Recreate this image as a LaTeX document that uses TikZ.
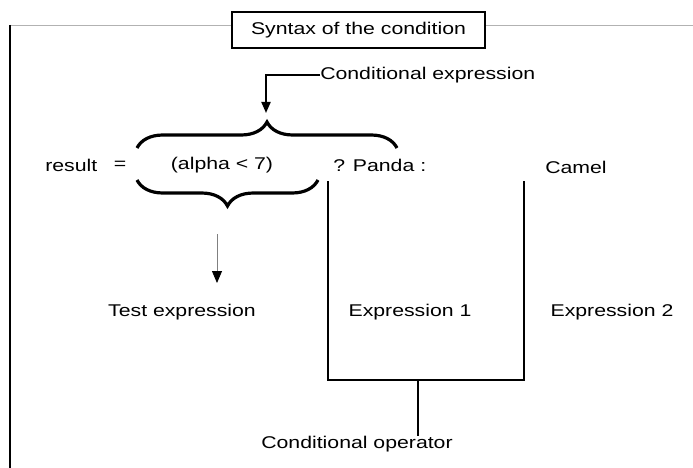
\documentclass[tikz,border=0pt]{standalone}
\usepackage{fontspec}
\setmainfont{Liberation Sans}
\usetikzlibrary{decorations.pathreplacing,arrows.meta}
\begin{document}
\begin{tikzpicture}[x=1pt,y=-1pt,
  lbl/.style={inner sep=0pt,xscale=1.25,font=\fontsize{17}{20}\selectfont},
  frameline/.style={line width=2pt,black},
  bracket/.style={line width=2.2pt,black},
  bigbrace/.style={decorate,decoration={brace,amplitude=26pt},line width=3.2pt},
  tri/.style={-{Triangle[width=9pt,length=11pt]}}]
  \useasboundingbox[fill=white] (0,0) rectangle (693,468);

  % frame
  \draw[gray!60,line width=0.8pt] (10,25) -- (693,25);
  \draw[frameline] (10,25) -- (10,468);
  \node[draw,line width=1.2pt,fill=white,minimum width=253pt,minimum height=36pt,inner sep=0pt] (titlebox) at (358.5,30) {};
  \node[lbl] (title) at (titlebox.center) {Syntax of the condition};

  % statement
  \node[lbl,anchor=west] (result) at (45,165) {result};
  \node[lbl] (eq) at (120,165) {=};
  \node[lbl] (cond) at (222,165) {(alpha < 7)};
  \node[lbl,anchor=west] (panda) at (333,165) {? Panda :};
  \node[lbl,anchor=west] (camel) at (545,167) {Camel};

  % braces around the test expression
  \draw[bigbrace] (137,148) -- (397,148);
  \draw[bigbrace] (318,180) -- (137,180);

  % conditional expression label
  \node[lbl,anchor=west] (cexpr) at (320,75) {Conditional expression};
  \coordinate (ctip) at (266,113);
  \draw[line width=2pt,tri] (cexpr.west) -| (ctip);

  % test expression
  \coordinate (tstart) at (217,234);
  \node[lbl] (test) at (182,312) {Test expression};
  \draw[gray,line width=0.8pt,-{Triangle[width=10pt,length=12pt,fill=black,color=black]}] (tstart) -- (217,283);

  % expressions 1 and 2
  \node[lbl] (ex1) at (410,312) {Expression 1};
  \node[lbl] (ex2) at (612,312) {Expression 2};

  % conditional operator bracket
  \coordinate (bl) at (328,181);
  \coordinate (br) at (524,181);
  \node[lbl] (cop) at (357,444) {Conditional operator};
  \draw[bracket] (bl) -- (328,380) -- (524,380) -- (br);
  \draw[bracket] (418,380) -- (418,436);
\end{tikzpicture}
\end{document}
